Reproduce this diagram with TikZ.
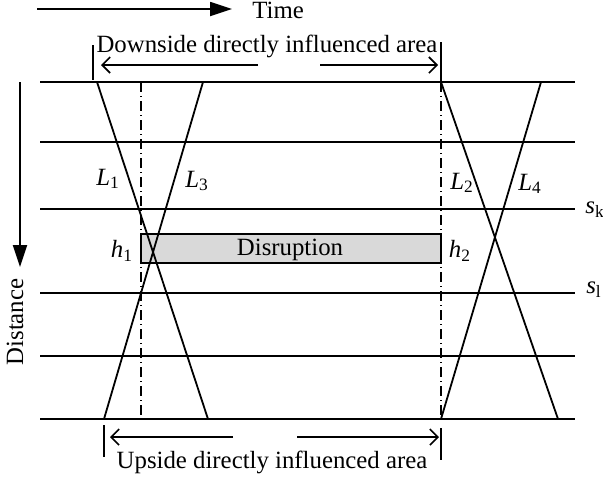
\documentclass[tikz,border=0pt]{standalone}
\usepackage{fontspec}
\setmainfont{Liberation Serif}
\usetikzlibrary{arrows.meta}
\tikzset{
    track/.style={line width=0.9pt},
    train/.style={line width=0.9pt},
    axis/.style={line width=0.9pt, -{Triangle[length=11pt,width=7pt]}},
    span/.style={line width=0.8pt, -{Straight Barb[length=4pt,width=8pt]}},
    bar/.style={line width=0.9pt},
    markline/.style={line width=0.7pt, dash pattern=on 5pt off 2pt on 0.5pt off 2pt},
    lbl/.style={font=\fontsize{12.4}{14}\selectfont, inner sep=1pt},
}

\begin{document}
\begin{tikzpicture}[x=0.5pt,y=-0.5pt]
    \useasboundingbox (0,0) rectangle (603,478);
    % stations
    \foreach \y in {82,142,209,293,356,419}
        \draw[track] (40,\y) -- (575,\y);
    % disruption
    \draw[fill=black!15, line width=0.6pt] (141,234) rectangle (441,263);
    \node[lbl] (dis) at (290,250) {Disruption};
    \draw[markline] (141,82) -- (141,419);
    \draw[markline] (441,82) -- (441,419);
    % trains
    \draw[train] (97,82) -- (208,419);
    \draw[train] (203,82) -- (104,419);
    \draw[train] (441,82) -- (558,419);
    \draw[train] (541,82) -- (441,419);
    \node[lbl] (l1) at (108,179) {\textit{L}\textsubscript{1}};
    \node[lbl] (l3) at (197,181) {\textit{L}\textsubscript{3}};
    \node[lbl] (l2) at (462,183) {\textit{L}\textsubscript{2}};
    \node[lbl] (l4) at (530,184) {\textit{L}\textsubscript{4}};
    \node[lbl] (h1) at (122,251) {\textit{h}\textsubscript{1}};
    \node[lbl] (h2) at (460,251) {\textit{h}\textsubscript{2}};
    \node[lbl] (sk) at (595,210) {\textit{s}\textsubscript{k}};
    \node[lbl] (sl) at (594,290) {\textit{s}\textsubscript{l}};
    % axes
    \node[lbl, anchor=west] (time) at (250,10) {Time};
    \coordinate (t0) at (37,9);
    \coordinate (t1) at (232,9);
    \draw[axis] (t0) -- (t1);
    \node[lbl, rotate=90] (dist) at (15,322) {Distance};
    \coordinate (d0) at (20,82);
    \coordinate (d1) at (20,267);
    \draw[axis] (d0) -- (d1);
    % influenced areas
    \node[lbl] (down) at (267,46) {Downside directly influenced area};
    \draw[bar] (93,45) -- (93,80);
    \draw[bar] (441,42) -- (441,82);
    \draw[span] (258,65) -- (101,65);
    \draw[span] (320,65) -- (438,65);
    \node[lbl] (up) at (272,462) {Upside directly influenced area};
    \draw[bar] (104,425) -- (104,457);
    \draw[bar] (441,428) -- (441,460);
    \draw[span] (233,437) -- (110,437);
    \draw[span] (297,437) -- (439,437);
\end{tikzpicture}
\end{document}
